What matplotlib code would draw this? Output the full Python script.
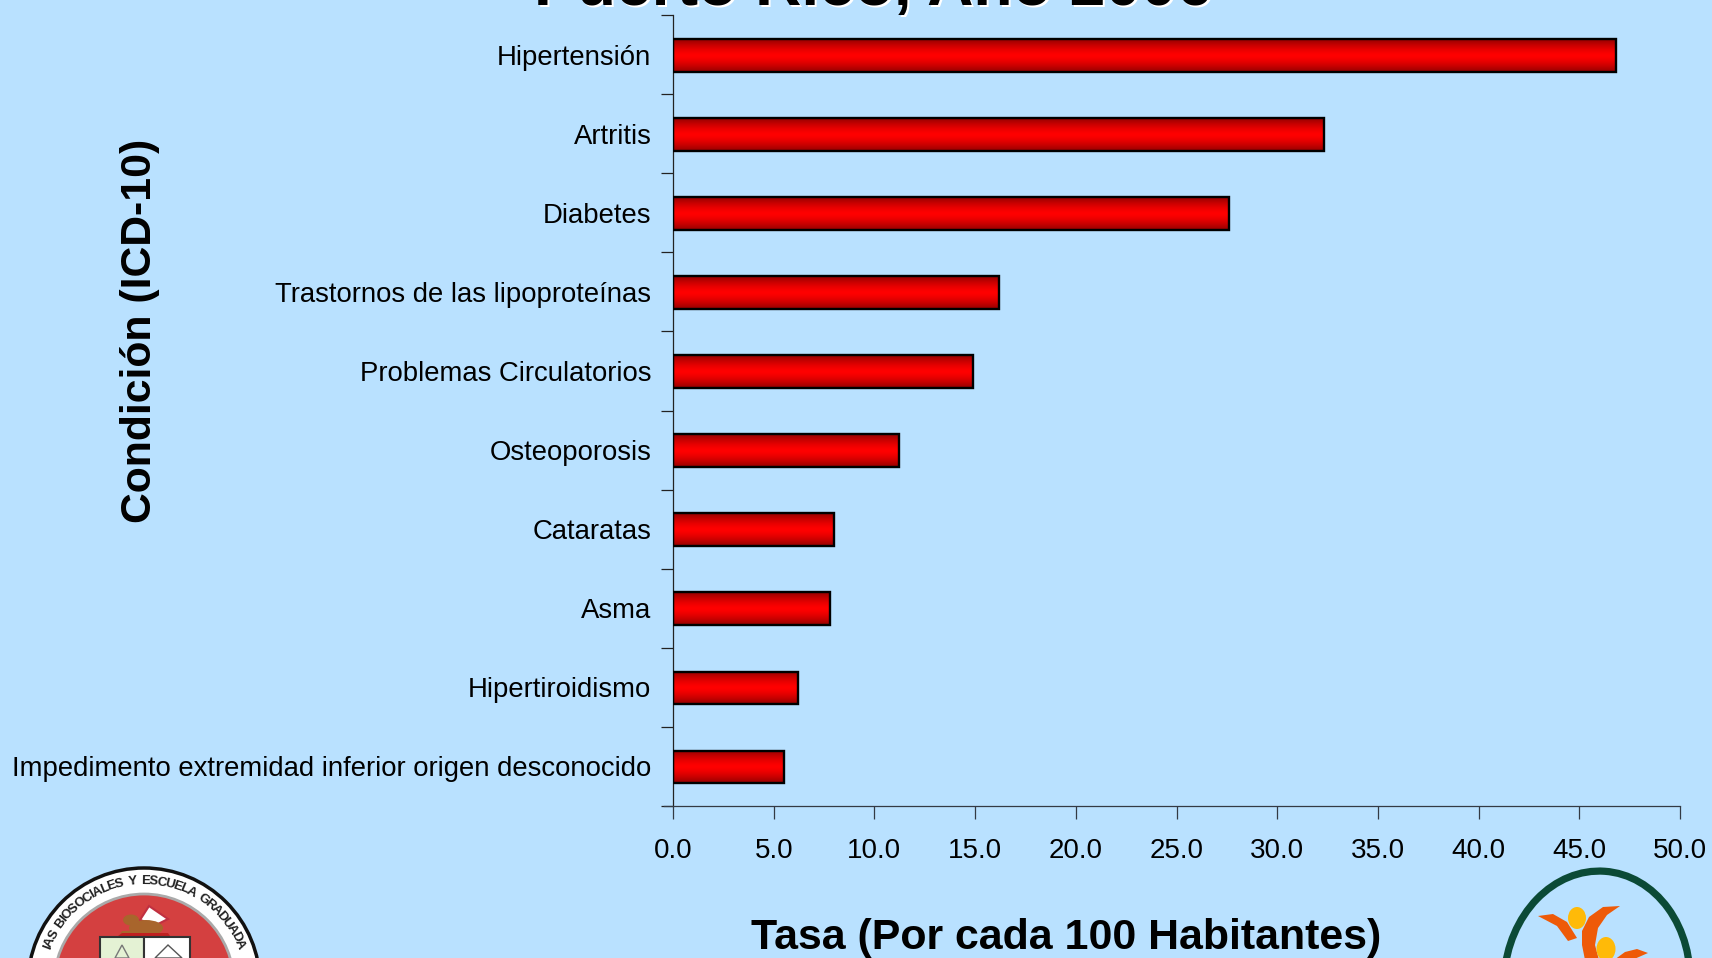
import numpy as np
import matplotlib
matplotlib.use("Agg")
from matplotlib import pyplot as plt
from matplotlib.patches import Circle, Ellipse, Rectangle, Polygon
from matplotlib.textpath import TextPath
from matplotlib.font_manager import FontProperties

plt.rcParams['font.family'] = ['Liberation Sans', 'DejaVu Sans']

W, H = 1712, 958
BG = "#b9e1ff"

condiciones = ["Hipertensión", "Artritis", "Diabetes", "Trastornos de las lipoproteínas",
               "Problemas Circulatorios", "Osteoporosis", "Cataratas", "Asma",
               "Hipertiroidismo", "Impedimento extremidad inferior origen desconocido"]
tasas = [46.8, 32.3, 27.6, 16.2, 14.9, 11.2, 8.0, 7.8, 6.2, 5.5]
xticks = [0, 5, 10, 15, 20, 25, 30, 35, 40, 45, 50]
titulo = "Puerto Rico, Año 2006"
xlabel = "Tasa (Por cada 100 Habitantes)"
ylabel = "Condición (ICD-10)"
sello = "IAS BIOSOCIALES Y ESCUELA GRADUADA"

fig = plt.figure(figsize=(W / 100, H / 100), dpi=100, facecolor=BG)

# main axes, placed in pixels
x0, x1, ytop, ybot = 673, 1680, 15, 806
ax = fig.add_axes([x0 / W, 1 - ybot / H, (x1 - x0) / W, (ybot - ytop) / H], facecolor="none")

pos = np.arange(len(tasas))
bars = ax.barh(pos + 0.008, tasas, height=0.415, facecolor="none", edgecolor="black", linewidth=1.7, zorder=3)

# red gradient: dark at the edges, bright in the middle
grad = np.abs(np.linspace(-1, 1, 64))
cols = np.zeros((64, 1, 3))
cols[:, 0, 0] = 1.0 - 0.42 * grad ** 1.5
for b in bars:
    ax.imshow(cols, extent=[0, b.get_width(), b.get_y() + b.get_height(), b.get_y()],
              aspect="auto", interpolation="bilinear", zorder=2)

ax.set_xlim(0, 50)
ax.set_ylim(len(tasas) - 0.5, -0.5)
ax.set_xticks(xticks)
ax.set_xticklabels(["%.1f" % t for t in xticks], fontsize=20, color="black")
ax.set_yticks(pos)
ax.set_yticklabels(condiciones, fontsize=19.8, color="black")
ax.set_yticks(np.arange(len(tasas) + 1) - 0.5, minor=True)
ax.tick_params(axis="y", which="major", length=0, pad=15.5)
ax.tick_params(axis="y", which="minor", length=9, width=0.9, color="#222222")
ax.tick_params(axis="x", length=9, width=0.9, color="#333a44", pad=14)
for s in ["top", "right"]:
    ax.spines[s].set_visible(False)
ax.spines["left"].set_linewidth(0.9)
ax.spines["left"].set_color("#222222")
ax.spines["bottom"].set_linewidth(0.9)
ax.spines["bottom"].set_color("#333a44")
ax.spines["bottom"].set_bounds(-0.45, 50)

# overlay in pixel coords for the titles and the logos
ov = fig.add_axes([0, 0, 1, 1], facecolor="none")
ov.set_xlim(0, W)
ov.set_ylim(H, 0)
ov.axis("off")

ov.text(140, 331, ylabel, rotation=90, ha="center", va="center", fontsize=30.8, fontweight="bold")
ov.text(1066, 938, xlabel, ha="center", va="center", fontsize=30.9, fontweight="bold")
ov.text(875, 7, titulo, ha="center", va="baseline", fontsize=46.2, fontweight="bold", color="white")
ov.text(873, 5, titulo, ha="center", va="baseline", fontsize=46.2, fontweight="bold", color="black")

# seal, bottom left
cx, cy, r = 144, 984, 116
ov.add_patch(Circle((cx, cy), r, fc="white", ec="#111111", lw=2.5))
ov.add_patch(Circle((cx, cy), r - 26, fc="#d44040", ec="#aaaaaa", lw=2))

# letters around the ring, spaced by their own widths
fp = FontProperties(family="Liberation Sans", weight="bold", size=9.5)
anchos = [TextPath((0, 0), c, prop=fp).get_extents().width if c != " " else 3.5 for c in sello]
anchos = np.array(anchos) + 1.2
acum = np.cumsum(anchos) - anchos / 2
angs = -70 + 140 * acum / anchos.sum()
for ch, a in zip(sello, angs):
    t = np.radians(a)
    ov.text(cx + (r - 13) * np.sin(t), cy - (r - 13) * np.cos(t), ch, rotation=-a, ha="center", va="center",
            fontsize=9.5, fontweight="bold", color="#222222")

# lamb with the flag on top of the shield
ov.add_patch(Polygon([[140, 920], [149, 906], [168, 919], [156, 925]], fc="white", ec="#c03040", lw=1.5))
ov.add_patch(Ellipse((146, 928), 34, 16, fc="#a8652c", ec="none"))
ov.add_patch(Ellipse((131, 920), 16, 11, fc="#a8652c", ec="none"))
ov.add_patch(Polygon([[122, 931], [150, 930], [152, 934], [120, 934]], fc="#a8652c", ec="none"))
ov.add_patch(Polygon([[122, 933], [168, 933], [170, 936], [118, 936]], fc="#c02020", ec="none"))
ov.add_patch(Rectangle((100, 937), 44, 30, fc="#e4f2d4", ec="#333333", lw=1.5))
ov.add_patch(Rectangle((144, 937), 46, 30, fc="white", ec="#333333", lw=1.5))
ov.add_patch(Polygon([[122, 945], [115, 958], [129, 958]], fc="none", ec="#777777", lw=1))
ov.add_patch(Polygon([[168, 945], [155, 958], [182, 958]], fc="none", ec="#555555", lw=1))

# green ring logo, bottom right
ov.add_patch(Ellipse((1597, 982), 186, 222, angle=4, fc="none", ec="#0b4a36", lw=5.2))
ov.add_patch(Polygon([[1538, 916], [1553, 914], [1567, 922], [1577, 938], [1568, 941], [1557, 926]],
                     fc="#ee5a08", ec="none"))
ov.add_patch(Polygon([[1620, 906], [1603, 907], [1589, 917], [1582, 931], [1582, 945], [1585, 960],
                      [1599, 960], [1595, 945], [1598, 928], [1607, 915]], fc="#ee5a08", ec="none"))
ov.add_patch(Polygon([[1648, 953], [1637, 949], [1625, 952], [1614, 960], [1632, 960]], fc="#ee5a08", ec="none"))
ov.add_patch(Ellipse((1577, 918), 18, 22, fc="#ffba08", ec="none"))
ov.add_patch(Ellipse((1606, 949), 19, 24, fc="#ffba08", ec="none"))

fig.savefig("out.png", dpi=100, facecolor=BG)
